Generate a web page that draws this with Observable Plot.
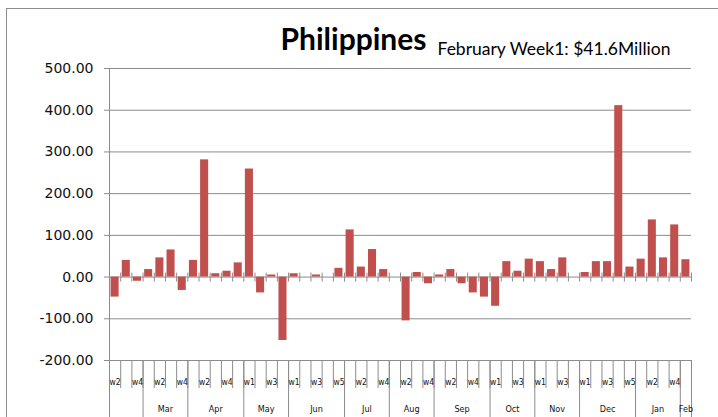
<!DOCTYPE html>
<html>
<head>
<meta charset="utf-8">
<script src="https://cdn.jsdelivr.net/npm/d3@7"></script>
<script src="https://cdn.jsdelivr.net/npm/@observablehq/plot@0.6"></script>
<style>
  html, body { margin: 0; padding: 0; background: #fff; }
  #wrap { position: relative; width: 718px; height: 417px; overflow: hidden; }
  #border { position: absolute; left: 6px; top: 8px; width: 800px; height: 500px;
            border-left: 1px solid #8c8c8c; border-top: 1px solid #8c8c8c; pointer-events: none; }
</style>
</head>
<body>
<div id="wrap"><div id="border"></div></div>
<script>
// ---- data ----
const title = "Philippines";
const subtitle = "February Week1: $41.6Million";
const weeks = [
  "w2","w3","w4",
  "w1","w2","w3","w4",
  "w1","w2","w3","w4","w5",
  "w1","w2","w3","w4",
  "w1","w2","w3","w4","w5",
  "w1","w2","w3","w4",
  "w1","w2","w3","w4",
  "w1","w2","w3","w4","w5",
  "w1","w2","w3","w4",
  "w1","w2","w3","w4",
  "w1","w2","w3","w4","w5",
  "w1","w2","w3","w4",
  "w1"
];
const values = [
  -48, 40, -10,
  18, 46, 65, -32,
  40, 281, 8, 14, 34,
  259, -38, 5, -152,
  8, 0, 5, 0, 21,
  113, 24, 66, 18,
  0, -105, 11, -16,
  5, 18, -16, -38, -48,
  -70, 37, 14, 43,
  37, 18, 46, 0,
  11, 37, 37, 411, 24,
  43, 137, 46, 125,
  41.6
];
const months = ["", "Mar", "Apr", "May", "Jun", "Jul", "Aug", "Sep", "Oct", "Nov", "Dec", "Jan", "Feb"];
const monthWeekCounts = [3, 4, 5, 4, 5, 4, 4, 5, 4, 4, 5, 4, 1];
const yTicks = [-200, -100, 0, 100, 200, 300, 400, 500];

// ---- derived tables ----
const n = values.length;
const bars = values.map((v, i) => ({i, value: v, week: weeks[i]}));
const bounds = d3.range(n + 1);
const monthBounds = [0, ...d3.cumsum(monthWeekCounts)];
const monthData = months.map((m, k) => ({name: m, start: monthBounds[k], end: monthBounds[k + 1]}));
const yMin = d3.min(yTicks), yMax = d3.max(yTicks);
const gray = "#8c8c8c";
const smallFont = "'Liberation Sans Narrow', 'DejaVu Sans Condensed', 'Liberation Sans', sans-serif";

const chart = Plot.plot({
  width: 718,
  height: 417,
  marginLeft: 109,
  marginRight: 27,
  marginTop: 68,
  marginBottom: 57,
  x: {type: "linear", domain: [0, n], axis: null},
  y: {domain: [yMin, yMax], axis: null},
  style: {background: "transparent", overflow: "visible"},
  marks: [
    Plot.ruleY(yTicks, {stroke: gray, strokeWidth: 1}),
    Plot.axisY({ticks: yTicks, tickFormat: d => d.toFixed(2), tickSize: 5, tickPadding: 11,
      fontSize: 14, fontFamily: "DejaVu Sans", stroke: gray, fill: "#111", label: null}),
    Plot.ruleX([0], {stroke: gray}),
    // ticks crossing the zero line
    Plot.ruleX(bounds, {x: d => d, y1: 0, y2: 0, insetTop: -4, insetBottom: -5, stroke: gray}),
    // bars
    Plot.rectY(bars, {x1: d => d.i + 0.14, x2: d => d.i + 0.86, y: "value", fill: "#C0504D"}),
    // bottom category ticks
    Plot.ruleX(bounds, {x: d => d, y1: yMin, y2: yMin, insetBottom: -28, stroke: gray}),
    // month separators
    Plot.ruleX(monthBounds, {x: d => d, y1: yMin, y2: yMin, insetBottom: -57, stroke: gray}),
    // week labels (every other one, as in the reference)
    Plot.text(bars.filter(d => d.i % 2 === 0), {x: d => d.i + 0.5, y: yMin, text: "week",
      dy: 24, lineAnchor: "bottom", fontSize: 8.5, fontFamily: smallFont, fill: "#111"}),
    // month labels
    Plot.text(monthData, {x: d => (d.start + d.end) / 2, y: yMin, text: "name",
      dy: 51, lineAnchor: "bottom", fontSize: 9, fontFamily: smallFont, fill: "#111"}),
    // title and subtitle
    Plot.text([title], {frameAnchor: "top-left", dx: 171, dy: -18.5, lineAnchor: "bottom",
      textAnchor: "start", fontSize: 30, fontWeight: "bold", fontFamily: "Lato", fill: "#000"}),
    Plot.text([subtitle], {frameAnchor: "top-left", dx: 328, dy: -13.5, lineAnchor: "bottom",
      textAnchor: "start", fontSize: 17.5, fontFamily: "Lato", fill: "#000"})
  ]
});
document.getElementById("wrap").prepend(chart);
</script>
</body>
</html>
